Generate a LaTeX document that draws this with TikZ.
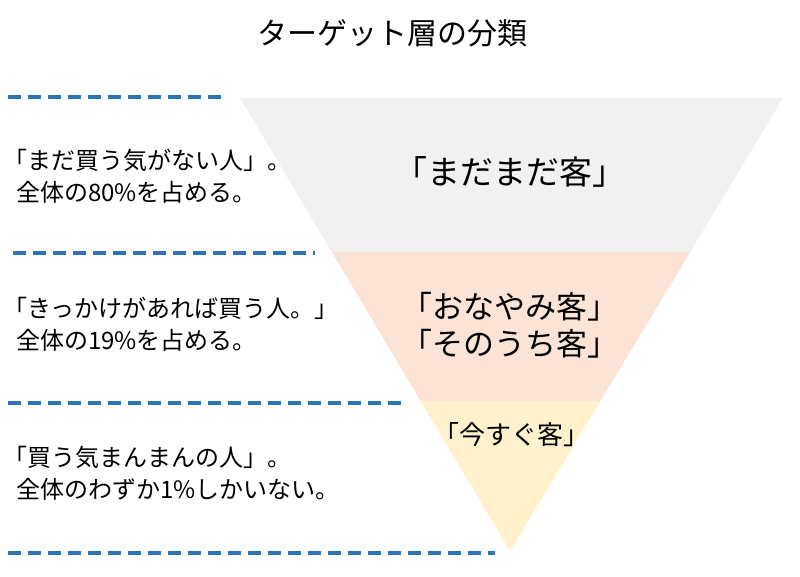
\documentclass[tikz,border=0pt]{standalone}
\usepackage{fontspec}
\setmainfont{Noto Sans CJK JP}
\usepackage{tikz}
\usetikzlibrary{positioning}
\definecolor{dashblue}{HTML}{2E75B6}
\definecolor{bandgray}{HTML}{F1F1F1}
\definecolor{bandpeach}{HTML}{FBE3D5}
\definecolor{bandyellow}{HTML}{FEF1CB}
\tikzstyle{band_line}=[draw=dashblue, line width=4.5pt, dash pattern=on 13pt off 7pt]
\tikzstyle{side_text}=[inner sep=0, anchor=west, align=left, font=\fontsize{24}{32}\selectfont]
\tikzstyle{mid_text}=[inner sep=0, align=center, font=\fontsize{31}{37}\selectfont]

\begin{document}
\begin{tikzpicture}[x=1pt, y=-1pt]
              \useasboundingbox (0,0) rectangle (800,577);
              \coordinate (tl) at (240,98);
              \coordinate (tr) at (783,98);
              \coordinate (ap) at (510,551);
              \coordinate (l1) at (331.8,252);
              \coordinate (r1) at (690.2,252);
              \coordinate (l2) at (420.6,401);
              \coordinate (r2) at (600.4,401);
              \fill[bandgray] (tl) -- (tr) -- (r1) -- (l1) -- cycle;
              \fill[bandpeach] (l1) -- (r1) -- (r2) -- (l2) -- cycle;
              \fill[bandyellow] (l2) -- (r2) -- (ap) -- cycle;
              \node[inner sep=0, font=\fontsize{30}{30}\selectfont] (title) at (392,33){ターゲット層の分類};
              \coordinate (d1a) at (8,97);
              \coordinate (d1b) at (222,97);
              \coordinate (d2a) at (13,253);
              \coordinate (d2b) at (315,253);
              \coordinate (d3a) at (8,403);
              \coordinate (d3b) at (408,403);
              \coordinate (d4a) at (8,553);
              \coordinate (d4b) at (495,553);
              \draw[band_line](d1a) -- (d1b);
              \draw[band_line](d2a) -- (d2b);
              \draw[band_line](d3a) -- (d3b);
              \draw[band_line](d4a) -- (d4b);
              \node[side_text] (desc1) at (3,176){「まだ買う気がない人」。\\\hspace{13pt}全体の80\%を占める。};
              \node[side_text] (desc2) at (3,324){「きっかけがあれば買う人。」\\\hspace{13pt}全体の19\%を占める。};
              \node[side_text] (desc3) at (3,473){「買う気まんまんの人」。\\\hspace{13pt}全体のわずか1\%しかいない。};
              \node[mid_text, font=\fontsize{33}{33}\selectfont] (seg1) at (510,172){「まだまだ客」};
              \node[mid_text] (seg2) at (510,325){「おなやみ客」\\「そのうち客」};
              \node[mid_text, font=\fontsize{26}{26}\selectfont] (seg3) at (511,435){「今すぐ客」};
            \end{tikzpicture}
\end{document}
